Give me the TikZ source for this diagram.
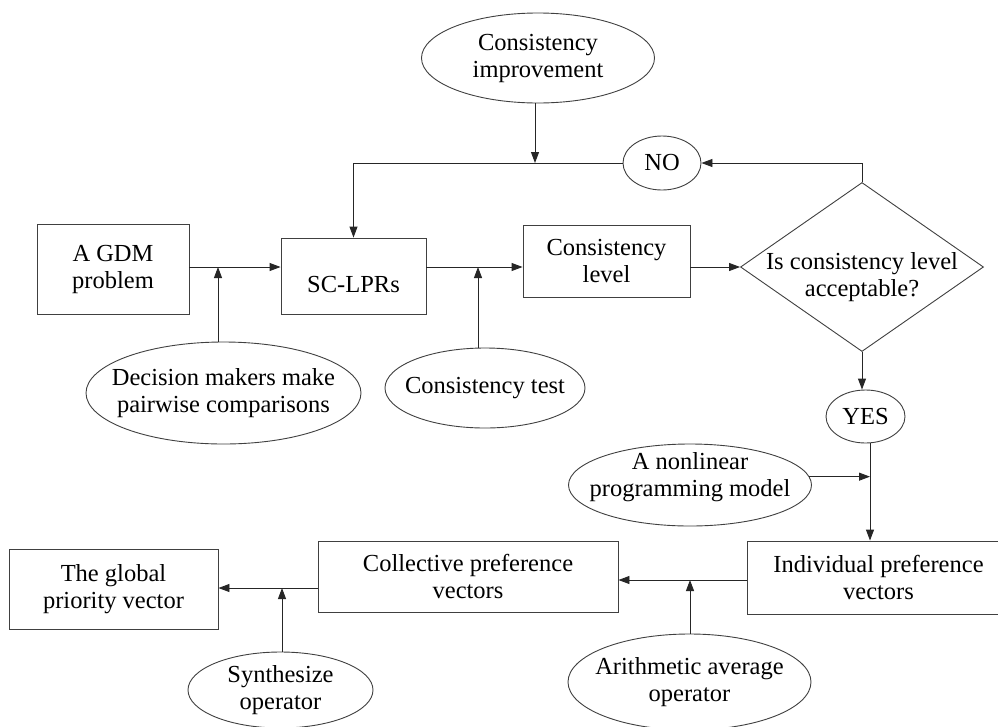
\documentclass[tikz,border=0pt]{standalone}
\usepackage{fontspec}
\setmainfont{Liberation Serif}
\usetikzlibrary{shapes.geometric,arrows.meta}
\newcommand{\fsz}{\fontsize{24.5}{27}\selectfont}
\begin{document}
\begin{tikzpicture}[x=1pt,y=-1pt,
  box/.style={draw=black!75, line width=0.9pt, rectangle, inner sep=0pt, align=center, font=\fsz},
  ell/.style={draw=black!75, line width=0.9pt, ellipse, inner sep=0pt},
  dia/.style={draw=black!75, line width=0.9pt, diamond, inner sep=0pt},
  txt/.style={align=center, font=\fsz, inner sep=0pt},
  conn/.style={draw=black!85, line width=0.9pt},
  arr/.style={conn, -{Triangle[length=11pt,width=8pt]}}]
\useasboundingbox (0,0) rectangle (998,726);
\clip (0,0) rectangle (998,726);
\fill[white] (0,0) rectangle (998,726);

% rows used by connectors
\coordinate (r1) at (0,267);
\coordinate (r3) at (0,580);
\coordinate (r4) at (0,588);
\coordinate (a1) at (218,267);
\coordinate (a2) at (478,267);
\coordinate (a3) at (690,580);
\coordinate (a4) at (282,588);

% nodes
\node[ell, minimum width=233pt, minimum height=90pt,
  label={[txt]center:{Consistency\\improvement}}] (ci) at (538,58) {};
\node[ell, minimum width=78pt, minimum height=54pt,
  label={[txt]center:{NO}}] (no) at (662,163) {};
\node[box, minimum width=152pt, minimum height=90pt] (gdm) at (113,269) {A GDM\\problem};
\node[box, minimum width=145pt, minimum height=76pt,
  label={[txt,yshift=-9pt]center:{SC-LPRs}}] (sc) at (353.5,276) {};
\node[box, minimum width=167pt, minimum height=72pt] (cl) at (606.5,261) {Consistency\\level};
\node[dia, minimum width=243pt, minimum height=169pt,
  label={[txt,yshift=-10pt]center:{Is consistency level\\acceptable?}}] (dq) at (862,267) {};
\node[ell, minimum width=275pt, minimum height=102pt,
  label={[txt]center:{Decision makers make\\pairwise comparisons}}] (dm) at (223.5,393) {};
\node[ell, minimum width=200pt, minimum height=80pt,
  label={[txt]center:{Consistency test}}] (ct) at (485,388) {};
\node[ell, minimum width=79pt, minimum height=53pt,
  label={[txt]center:{YES}}] (yes) at (865.5,416.5) {};
\node[ell, minimum width=243pt, minimum height=82pt,
  label={[txt,yshift=8pt]center:{A nonlinear\\programming model}}] (nl) at (690,485) {};
\node[box, minimum width=263pt, minimum height=73pt] (ind) at (878.5,577.5) {Individual preference\\vectors};
\node[box, minimum width=300pt, minimum height=71pt] (col) at (468,576.5) {Collective preference\\vectors};
\node[ell, minimum width=243pt, minimum height=96pt,
  label={[txt]center:{Arithmetic average\\operator}}] (ar) at (689.5,682) {};
\node[box, minimum width=209pt, minimum height=80pt] (glob) at (113.5,589) {The global\\priority vector};
\node[ell, minimum width=185pt, minimum height=76pt,
  label={[txt]center:{Synthesize\\operator}}] (syn) at (280.5,690) {};

% connectors
\draw[arr] (no.west) -- (sc.north |- no.west) -- (sc.north);
\draw[arr] (ci.south -| 535,0) -- (535,0 |- no.west);
\draw[arr] (dq.north) |- (no.east);
\draw[arr] (gdm.east |- r1) -- (sc.west |- r1);
\draw[arr] (a1 |- dm.north) -- (a1);
\draw[arr] (sc.east |- r1) -- (cl.west |- r1);
\draw[arr] (a2 |- ct.north) -- (a2);
\draw[arr] (cl.east |- r1) -- (dq.west);
\draw[arr] (dq.south) -- (dq.south |- yes.north);
\draw[arr] (870,0 |- yes.south) -- (870,0 |- ind.north);
\draw[arr] (nl.4) -- (nl.4 -| 870,0);
\draw[arr] (ind.west |- r3) -- (col.east |- r3);
\draw[arr] (a3 |- ar.north) -- (a3);
\draw[arr] (col.west |- r4) -- (glob.east |- r4);
\draw[arr] (a4 |- syn.north) -- (a4);
\end{tikzpicture}
\end{document}
